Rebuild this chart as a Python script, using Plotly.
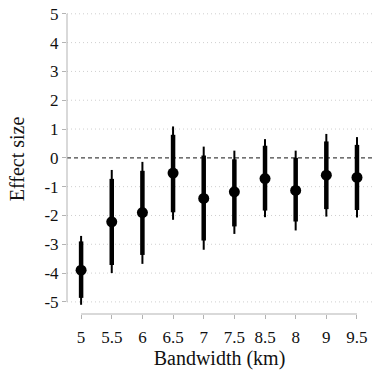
import plotly.graph_objects as go

bandwidth = ["5", "5.5", "6", "6.5", "7", "7.5", "8.5", "8", "9", "9.5"]
effect = [-3.90, -2.22, -1.90, -0.53, -1.41, -1.18, -0.72, -1.13, -0.60, -0.68]
thick_lo = [-4.86, -3.72, -3.37, -1.89, -2.87, -2.38, -1.83, -2.21, -1.78, -1.81]
thick_hi = [-2.90, -0.73, -0.45, 0.80, 0.08, -0.05, 0.42, 0.00, 0.57, 0.45]
thin_lo = [-5.10, -4.00, -3.68, -2.15, -3.19, -2.64, -2.06, -2.52, -2.04, -2.07]
thin_hi = [-2.71, -0.42, -0.14, 1.09, 0.39, 0.25, 0.65, 0.25, 0.83, 0.72]
yticks = [-5, -4, -3, -2, -1, 0, 1, 2, 3, 4, 5]

FONT = "Liberation Serif"

def seg(xs, lo, hi):
    X, Y = [], []
    for x, a, b in zip(xs, lo, hi):
        X += [x, x, None]
        Y += [a, b, None]
    return X, Y

fig = go.Figure()
tx, ty = seg(bandwidth, thin_lo, thin_hi)
fig.add_trace(go.Scatter(x=tx, y=ty, mode="lines", line=dict(color="black", width=2), hoverinfo="skip"))
kx, ky = seg(bandwidth, thick_lo, thick_hi)
fig.add_trace(go.Scatter(x=kx, y=ky, mode="lines", line=dict(color="black", width=4.5), hoverinfo="skip"))
fig.add_trace(go.Scatter(x=bandwidth, y=effect, mode="markers", marker=dict(color="black", size=11)))

fig.add_shape(type="line", xref="paper", yref="y", x0=0, x1=1, y0=0, y1=0,
              line=dict(color="#444444", width=1.2, dash="4px,3px"), layer="below")
for v in yticks:
    if v == 0:
        continue
    fig.add_shape(type="line", xref="paper", yref="y", x0=0, x1=1, y0=v, y1=v,
                  line=dict(color="#cfcfcf", width=1, dash="1px,3px"), layer="below")
fig.add_shape(type="line", xref="paper", yref="y", x0=0, x1=0, y0=yticks[0], y1=yticks[-1],
              line=dict(color="#b3b3b3", width=1))
fig.add_shape(type="line", xref="x", yref="paper", x0=0, x1=len(bandwidth) - 1, y0=0, y1=0,
              line=dict(color="#b3b3b3", width=1))

fig.update_layout(
    width=372, height=374,
    margin=dict(l=67, r=0, t=4, b=60),
    plot_bgcolor="white", paper_bgcolor="white",
    showlegend=False,
    font=dict(family=FONT, size=17, color="#111111"),
)
fig.update_xaxes(
    type="category", categoryorder="array", categoryarray=bandwidth,
    range=[-0.46, 9.49], showgrid=False, zeroline=False, showline=False,
    ticks="outside", ticklen=4, tickcolor="#b3b3b3", tickwidth=1,
    ticklabelstandoff=4,
    tickfont=dict(family=FONT, size=17),
    title=dict(text="Bandwidth (km)", font=dict(family=FONT, size=20), standoff=2),
)
fig.update_yaxes(
    range=[-5.42, 5.34], tickvals=yticks, ticktext=[str(v) for v in yticks],
    showgrid=False, zeroline=False, showline=False,
    ticks="outside", ticklen=4, tickcolor="#b3b3b3", tickwidth=1,
    tickfont=dict(family=FONT, size=17),
    title=dict(text="Effect size", font=dict(family=FONT, size=20), standoff=14),
)

fig.write_html("out.html")
